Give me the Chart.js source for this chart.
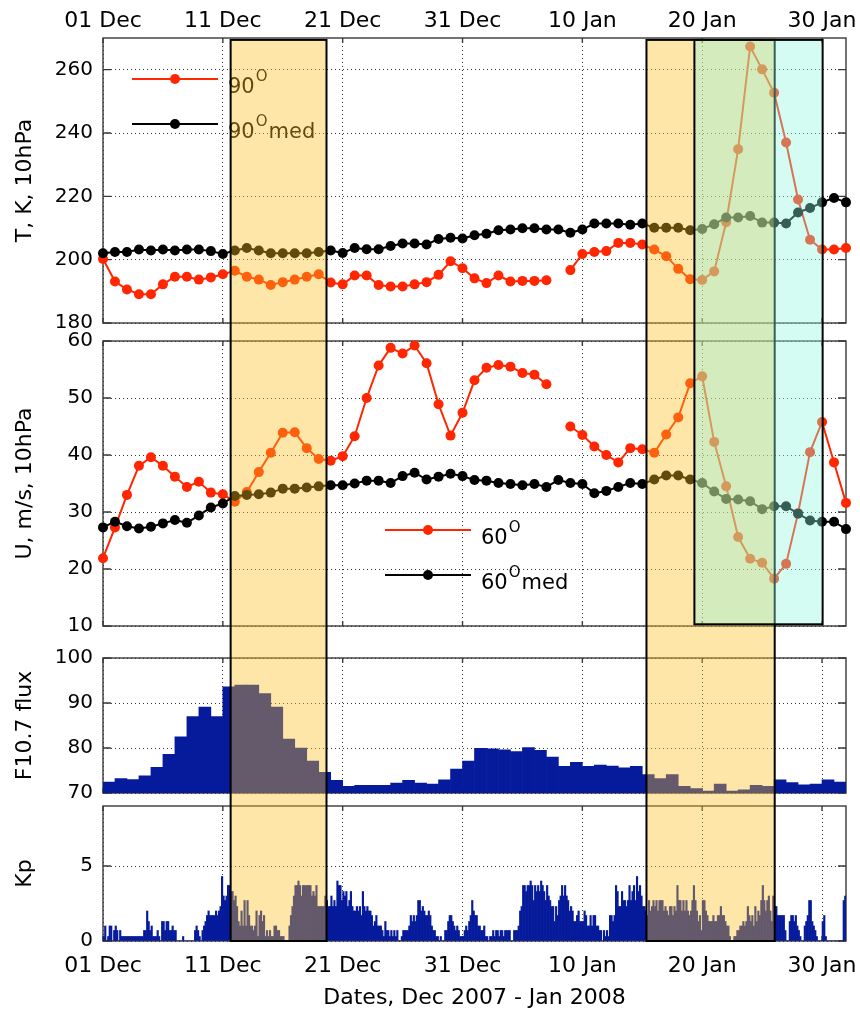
<!DOCTYPE html>
<html><head><meta charset="utf-8">
<script src="https://cdn.jsdelivr.net/npm/chart.js@4.4.1/dist/chart.umd.min.js"></script>
<style>
html,body{margin:0;padding:0;background:#fff;}
#wrap{position:relative;width:860px;height:1013px;overflow:hidden;background:#fff;}
#wrap canvas{position:absolute;left:0;top:0;}
#ov{pointer-events:none;}
</style></head><body>
<div id="wrap">
<canvas id="cT" width="860" height="1013"></canvas>
<canvas id="cU" width="860" height="1013"></canvas>
<canvas id="cF" width="860" height="1013"></canvas>
<canvas id="cK" width="860" height="1013"></canvas>
<canvas id="ov" width="860" height="1013"></canvas>
</div>
<script>
// ================= DATA =================
// days since 01 Dec 2007
const days = [0,1,2,3,4,5,6,7,8,9,10,11,12,13,14,15,16,17,18,19,20,21,22,23,24,25,26,27,28,29,30,
  31,32,33,34,35,36,37,38,39,40,41,42,43,44,45,46,47,48,49,50,51,52,53,54,55,56,57,58,59,60,61,62];
const tickDays = [0,10,20,30,40,50,60];
const tickLabels = ['01 Dec','11 Dec','21 Dec','31 Dec','10 Jan','20 Jan','30 Jan'];

// T, K at 10 hPa
const t90 = [200.2,193.1,190.6,189.1,189.1,192.2,194.6,194.6,193.7,194.4,
  195.4,196.5,194.6,193.7,192.0,192.9,193.7,194.6,195.4,192.8,
  192.2,195.0,195.0,192.0,191.5,191.5,192.2,192.9,195.2,199.5,
  197.3,194.1,192.6,195.0,193.1,193.3,193.3,193.5,null,196.7,
  201.8,202.4,202.7,205.3,205.3,204.8,203.2,201.1,197.1,193.8,
  193.6,196.3,211.8,234.9,267.3,260.1,252.7,237.0,219.0,206.3,
  203.2,203.2,203.7];
const t90med = [202.0,202.4,202.4,203.2,202.9,203.2,202.9,203.2,203.2,202.7,
  201.8,202.9,203.7,202.9,202.0,202.0,202.0,202.0,202.4,202.9,
  202.1,203.7,203.3,203.3,204.3,205.1,205.1,204.8,206.5,206.9,
  206.7,207.7,208.2,209.3,209.5,209.9,209.9,209.5,209.5,208.5,
  209.5,211.4,211.4,211.4,211.0,211.4,210.1,210.1,210.1,209.3,
  209.7,211.2,213.3,213.3,213.8,211.7,211.7,211.4,214.9,216.3,
  218.1,219.5,218.1];

// U, m/s at 10 hPa
const u60 = [21.9,27.3,33.0,38.1,39.6,38.1,36.2,34.4,35.3,33.4,
  33.1,31.8,33.5,37.0,40.4,43.9,44.0,41.2,39.3,39.0,
  39.8,43.3,50.0,55.7,58.8,57.8,59.2,56.1,48.9,43.4,
  47.4,53.1,55.3,55.8,55.5,54.4,54.1,52.4,null,45.0,
  43.5,41.5,40.0,38.7,41.2,41.0,40.4,43.6,46.6,52.6,
  53.8,42.3,34.5,25.6,21.8,21.1,18.3,20.9,29.8,40.5,
  45.8,38.7,31.6];
const u60med = [27.3,28.3,27.5,27.1,27.4,28.0,28.6,28.1,29.4,30.8,
  31.5,32.8,33.0,33.1,33.4,34.1,34.1,34.3,34.5,34.7,
  34.7,35.0,35.5,35.5,35.1,36.3,36.9,35.7,36.2,36.7,
  36.3,35.6,35.5,35.1,34.9,34.7,34.9,34.4,35.6,35.1,
  34.9,33.3,33.7,34.4,35.1,34.9,35.7,36.4,36.4,35.7,
  35.1,33.6,32.3,32.2,31.9,30.5,31.0,31.0,29.7,28.5,
  28.3,28.3,27.0];

// daily F10.7 flux (days 0..61)
const f107 = [72.4,73.2,73.0,73.8,75.7,78.6,82.5,87.0,89.1,87.0,
  93.6,94.0,94.0,92.1,89.1,82.0,80.0,77.1,74.6,72.8,
  71.5,71.7,71.7,71.7,72.2,72.8,72.2,72.0,72.9,75.3,
  77.1,79.9,79.8,79.6,79.2,80.1,79.5,78.0,75.9,76.8,
  75.9,76.2,76.0,75.6,75.9,74.1,73.2,74.1,71.5,71.0,
  70.4,72.0,70.4,70.7,71.7,71.5,72.9,72.3,71.8,72.0,
  72.9,72.4];

// 3-hourly Kp, one row of 8 per day (days 0..61)
const kp = [
 [0.3,1,0,0.3,1,1,0,0.7],[1,0.7,0,0.7,0.3,0.3,0.3,0.3],[0.3,0.3,0.3,0.3,0.3,0.3,0.3,0.3],
 [0.3,0.3,0.3,0.7,0.7,2,1.3,0.7],[1,0.3,0.3,0.3,0.7,0.3,0,1.3],[1.3,0.7,1.3,1.3,0.7,0.7,1,0.7],
 [0.7,0,0,0,0,0.3,0,0],[0,0,0,0,0,0.7,1,0.7],[0.3,0,0.7,1,1.3,1.7,2,1.7],
 [1.7,1.7,1.7,2,1.7,2,2.3,4.3],[3,2.7,3,3.7,3.7,3.3,3.3,2.7],[3,2.3,1.3,1,2,1,2.7,1],
 [2.7,1.7,1,1,0.7,1,2,0.3],[1.7,2,1.3,1.7,0.3,0.7,0.3,0.7],[0.3,0.3,1,1,0.7,0.7,0.3,0.3],
 [0.3,0,0,0,1,1.7,2.3,3],[3.7,3.7,4,3.7,3,3.7,3.7,3.7],[3.7,3.7,3.7,3,3.3,3,3.7,2.3],
 [2.3,2.3,2.3,2.3,3,2.7,2.3,2.3],[3,2.3,2.7,2.3,4,3.7,3.7,2.7],[3.3,3,3.3,2.3,2.7,3.3,2.3,2],
 [2,2.3,2,2.3,1.7,3.3,2.3,2],[2.3,2,2,1.7,1,1.3,1.7,1],[1,1,0.7,0.3,1.3,0.7,0.7,0.3],
 [0.7,0.3,0.7,0.3,0.7,0,0,0.3],[0.7,0.7,0.7,0.7,1,1.7,1.3,1.7],[1.3,1.7,2.7,2.7,2,2.3,2,1.7],
 [1.7,2,1.7,1,0.7,0.7,0.3,0.3],[0,0.3,0,0,0.7,0.7,1.3,1.7],[1.7,1.3,1,0.7,1,0.7,0.3,0.3],
 [0.3,0.7,1,0.7,1.3,1.7,2.7,2],[1.7,1.7,1,1,0.7,0.7,1,0.3],[0.3,0,0.3,0.3,0.7,0.3,0.7,0.7],
 [0.3,0.7,0.7,0.3,0.7,0.7,0.7,0.7],[0,0,0.7,0.7,0.7,1,2,2.3],[3.7,3.7,3.3,3.7,3.7,4,3.7,2.7],
 [3.7,3.3,3.7,3.3,4,3.7,3.3,2.7],[3.7,3,2.7,2.3,2.3,1.3,2.3,1.7],[2.7,3,3.7,3,3.7,3,2.7,2],
 [2.3,2,1.3,1.3,1.7,2,1.3,1.3],[1.3,2,1.7,1,1,1.7,1,1.7],[1.7,1,1,0.7,0.7,0,0.7,0.3],
 [0.7,0.3,1.7,1.7,1.3,1.7,3.7,3.3],[2.3,2.3,3.3,2.7,2.7,2.3,2.7,3.7],[2.7,3.3,3.7,2.7,4.3,3.3,3.7,3],
 [2.3,2.3,2,1.7,2.7,2,2.3,2.7],[2.3,2.7,2,2.7,2.7,2.7,2,2.3],[2,1.7,2.3,2.3,1.7,2.3,2,3.7],
 [2.7,2.7,2,2.7,2,2.7,2,1.7],[2,2.7,3.7,2.7,2,1.3,1.7,0.7],[2.7,2.7,2,1.7,1.3,1.3,1.3,1.7],
 [1.3,1.3,1.7,1.7,2.3,1.7,1.7,1.3],[1,1,0.3,0,0,0.3,0.3,0.7],[0.7,1,1,1.3,1,1.3,2.3,1.7],
 [1.3,1.7,1,2.3,1.3,2,1.7,2.7],[3.7,2.7,2,2.7,3,2,1.3,3],[2.3,2.3,1.7,1.7,1.7,1.7,1.7,0.7],
 [0,0,1.3,1.7,1.7,1.3,1.7,1],[0.7,0.3,0,0,1,1.3,1.7,2.7],[2.7,1.3,1,0.7,0.3,0,0,0],
 [1.3,1.7,0.3,0,0,0,0,0],[0,0,0,0,0,0,2.7,3]
];

// highlighted periods (days since 01 Dec 2007)
const periodStart = [10.65, 45.35, 49.35];
const periodEnd   = [18.65, 56.05, 60.05];

// ================= STYLE =================
const FONT = 'DejaVu Sans';
const RED = '#ff2600';
const BLACK = '#000000';
const BLUE = '#061b9b';
const GRID = 'rgba(20,20,20,0.85)';
const FRAME = '#3a3a3a';
const X_MIN = 0, X_MAX = 62;

const pts = (arr) => arr.map((v, i) => ({x: days[i], y: v}));

function xScale(position, showLabels, height, titleText) {
  return {
    type: 'linear', position, min: X_MIN, max: X_MAX, offset: false,
    afterBuildTicks: s => { s.ticks = tickDays.map(v => ({value: v})); },
    ticks: { display: showLabels, autoSkip: false, maxRotation: 0, minRotation: 0,
      padding: position === 'top' ? 4 : 12,
      font: {family: FONT, size: 22}, color: '#000',
      callback: v => tickLabels[tickDays.indexOf(v)] },
    grid: { color: GRID, lineWidth: 1, drawTicks: false, offset: false },
    border: { display: false, dash: [1, 3] },
    title: titleText ? { display: true, text: titleText, font: {family: FONT, size: 22}, color: '#000',
      padding: {top: 2, bottom: 2} } : {display: false},
    afterFit: s => { s.height = height; s.paddingLeft = 0; s.paddingRight = 0; }
  };
}
function yScale(min, max, step, title) {
  return {
    type: 'linear', position: 'left', min, max,
    ticks: { stepSize: step, includeBounds: false, padding: 10,
      font: {family: FONT, size: 20}, color: '#000' },
    grid: { color: GRID, lineWidth: 1, drawTicks: false },
    border: { display: false, dash: [1, 3] },
    title: { display: true, text: title, font: {family: FONT, size: 22}, color: '#000',
      padding: {top: 12, bottom: 0} },
    afterFit: s => { s.width = 103; s.paddingTop = 0; s.paddingBottom = 0; }
  };
}

const framePlugin = {
  id: 'frame',
  beforeDatasetsDraw(chart) {
    const {ctx, chartArea: a, scales} = chart;
    ctx.save();
    ctx.strokeStyle = FRAME; ctx.lineWidth = 1.4;
    ctx.beginPath();
    scales.x.ticks.forEach(t => {
      const px = scales.x.getPixelForValue(t.value);
      ctx.moveTo(px, a.top); ctx.lineTo(px, a.top + 5);
      ctx.moveTo(px, a.bottom); ctx.lineTo(px, a.bottom - 5);
    });
    scales.y.ticks.forEach(t => {
      const py = scales.y.getPixelForValue(t.value);
      ctx.moveTo(a.left, py); ctx.lineTo(a.left + 8, py);
      ctx.moveTo(a.right, py); ctx.lineTo(a.right - 8, py);
    });
    ctx.stroke();
    ctx.strokeRect(a.left, a.top, a.right - a.left, a.bottom - a.top);
    ctx.restore();
  }
};

const legendPlugin = {
  id: 'panelLegend',
  afterDatasetsDraw(chart, args, opts) {
    if (!opts || !opts.items) return;
    const ctx = chart.ctx;
    opts.items.forEach(it => {
      ctx.save();
      ctx.strokeStyle = it.color; ctx.fillStyle = it.color; ctx.lineWidth = 2;
      ctx.beginPath(); ctx.moveTo(opts.x0, it.y); ctx.lineTo(opts.x1, it.y); ctx.stroke();
      ctx.beginPath(); ctx.arc((opts.x0 + opts.x1) / 2, it.y, 5, 0, Math.PI * 2); ctx.fill();
      ctx.fillStyle = '#000'; ctx.textAlign = 'left'; ctx.textBaseline = 'alphabetic';
      let x = opts.x1 + 10;
      ctx.font = '21px "' + FONT + '"';
      ctx.fillText(it.base, x, it.y + 14);
      x += ctx.measureText(it.base).width + 1;
      ctx.font = '15px "' + FONT + '"';
      ctx.fillText('O', x, it.y + 2);
      x += ctx.measureText('O').width + 1;
      if (it.suffix) {
        ctx.font = '21px "' + FONT + '"';
        ctx.fillText(it.suffix, x, it.y + 14);
      }
      ctx.restore();
    });
  }
};

const common = {
  responsive: false, animation: false, devicePixelRatio: 1, events: [],
};

function lineDs(values, color, order) {
  return { data: pts(values), borderColor: color, backgroundColor: color, borderWidth: 2,
    pointRadius: 5, pointBorderWidth: 0, pointBackgroundColor: color, tension: 0,
    spanGaps: false, clip: false, order };
}

const charts = [];

// ---- Panel 1: temperature ----
charts.push(new Chart(document.getElementById('cT'), {
  type: 'line',
  data: { datasets: [ lineDs(t90med, BLACK, 0), lineDs(t90, RED, 1) ] },
  options: Object.assign({}, common, {
    layout: { padding: {top: 0, left: 0, right: 14, bottom: 690} },
    scales: { x: xScale('top', true, 38), y: yScale(180, 270, 20, 'T, K, 10hPa') },
    plugins: { legend: {display: false}, tooltip: {enabled: false},
      panelLegend: { x0: 132, x1: 218, items: [
        {y: 79, color: RED, base: '90', suffix: ''},
        {y: 124, color: BLACK, base: '90', suffix: 'med'} ] } }
  }),
  plugins: [framePlugin, legendPlugin]
}));

// ---- Panel 2: zonal wind ----
charts.push(new Chart(document.getElementById('cU'), {
  type: 'line',
  data: { datasets: [ lineDs(u60med, BLACK, 0), lineDs(u60, RED, 1) ] },
  options: Object.assign({}, common, {
    layout: { padding: {top: 341, left: 0, right: 14, bottom: 387} },
    scales: { x: xScale('bottom', false, 0), y: yScale(10, 60, 10, 'U, m/s, 10hPa') },
    plugins: { legend: {display: false}, tooltip: {enabled: false},
      panelLegend: { x0: 385, x1: 471, items: [
        {y: 530, color: RED, base: '60', suffix: ''},
        {y: 575, color: BLACK, base: '60', suffix: 'med'} ] } }
  }),
  plugins: [framePlugin, legendPlugin]
}));

// ---- Panel 3: F10.7 ----
charts.push(new Chart(document.getElementById('cF'), {
  type: 'bar',
  data: { datasets: [ { data: f107.map((v, i) => ({x: days[i] + 0.5, y: v})),
    backgroundColor: BLUE, borderWidth: 0, categoryPercentage: 1, barPercentage: 1 } ] },
  options: Object.assign({}, common, {
    layout: { padding: {top: 658, left: 0, right: 14, bottom: 220} },
    scales: { x: xScale('bottom', false, 0), y: yScale(70, 100, 10, 'F10.7 flux') },
    plugins: { legend: {display: false}, tooltip: {enabled: false} }
  }),
  plugins: [framePlugin]
}));

// ---- Panel 4: Kp ----
const kpPoints = [];
kp.forEach((row, d) => row.forEach((v, k) => kpPoints.push({x: days[d] + (k + 0.5) / 8, y: v})));
charts.push(new Chart(document.getElementById('cK'), {
  type: 'bar',
  data: { datasets: [ { data: kpPoints, backgroundColor: BLUE, borderWidth: 0,
    categoryPercentage: 1, barPercentage: 1 } ] },
  options: Object.assign({}, common, {
    layout: { padding: {top: 806, left: 0, right: 14, bottom: 0} },
    scales: { x: xScale('bottom', true, 72, 'Dates, Dec 2007 - Jan 2008'), y: yScale(0, 9, 5, 'Kp') },
    plugins: { legend: {display: false}, tooltip: {enabled: false} }
  }),
  plugins: [framePlugin]
}));

// ---- highlighted periods overlay ----
const periodStyle = [
  {fill: 'rgba(250,191,32,0.39)', bottomPanel: 3, bottomValue: 0},
  {fill: 'rgba(250,191,32,0.39)', bottomPanel: 3, bottomValue: 0},
  {fill: 'rgba(145,247,224,0.38)', bottomPanel: 1, bottomValue: 10.3}
];
const PERIOD_TOP_VALUE = 269.4;
(function drawPeriods() {
  const ctx = document.getElementById('ov').getContext('2d');
  const xs = charts[0].scales.x;
  const yTop = charts[0].scales.y.getPixelForValue(PERIOD_TOP_VALUE);
  periodStart.forEach((s, i) => {
    const st = periodStyle[i];
    const x0 = xs.getPixelForValue(s), x1 = xs.getPixelForValue(periodEnd[i]);
    const y1 = charts[st.bottomPanel].scales.y.getPixelForValue(st.bottomValue);
    ctx.fillStyle = st.fill;
    ctx.fillRect(x0, yTop, x1 - x0, y1 - yTop);
    ctx.strokeStyle = '#000'; ctx.lineWidth = 2;
    ctx.strokeRect(x0, yTop, x1 - x0, y1 - yTop);
  });
})();
</script>
</body></html>
